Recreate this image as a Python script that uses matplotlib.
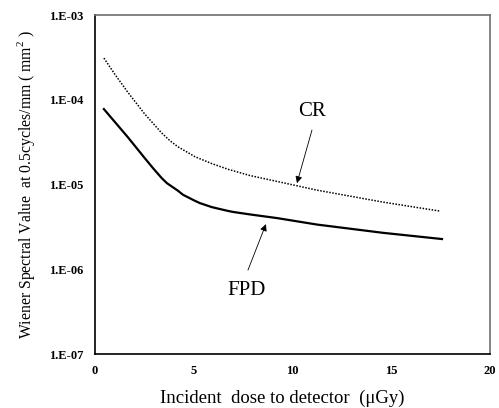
import matplotlib
matplotlib.use("Agg")
from matplotlib import pyplot as plt

plt.rcParams['font.family'] = ['Liberation Serif', 'DejaVu Serif']
plt.rcParams['mathtext.fontset'] = 'custom'
plt.rcParams['mathtext.rm'] = 'Liberation Serif'

# values
fpd_dose = [0.46, 1.67, 2.53, 2.94, 3.39, 3.65, 4.20, 4.46, 5.06, 5.32, 5.92, 6.18,
            6.73, 7.0, 7.85, 9.22, 11.24, 14.58, 17.57]
fpd_wsv = [7.78e-5, 3.63e-5, 2.05e-5, 1.57e-5, 1.19e-5, 1.04e-5, 8.5e-6, 7.6e-6,
           6.45e-6, 6.05e-6, 5.43e-6, 5.25e-6, 4.9e-6, 4.76e-6, 4.45e-6, 4.03e-6,
           3.38e-6, 2.70e-6, 2.28e-6]

cr_dose = [0.46, 1.01, 1.67, 2.53, 3.39, 3.8, 4.20, 5.06, 5.92, 6.73, 7.85, 11.24, 14.58, 17.47]
cr_wsv = [3.11e-4, 2.01e-4, 1.23e-4, 6.79e-5, 4.05e-5, 3.3e-5, 2.8e-5, 2.14e-5, 1.77e-5,
          1.52e-5, 1.28e-5, 8.61e-6, 6.22e-6, 4.87e-6]

x_ticks = [0, 5, 10, 15, 20]
y_ticks = [1e-7, 1e-6, 1e-5, 1e-4, 1e-3]
y_labels = ["1.E-07", "1.E-06", "1.E-05", "1.E-04", "1.E-03"]

fig = plt.figure(figsize=(4.99, 4.08), dpi=100)
ax = fig.add_axes([0.19, 0.132, 0.792, 0.831])

ax.plot(fpd_dose, fpd_wsv, '-', color='black', lw=1.6, solid_joinstyle='round')
ax.plot(cr_dose, cr_wsv, color='black', lw=1.1, linestyle=(0, (1, 1)))

ax.set_yscale('log')
ax.set_xlim(0, 20)
ax.set_ylim(1e-7, 1e-3)
ax.set_xticks(x_ticks)
ax.set_xticklabels([str(v) for v in x_ticks], fontsize=9, fontweight='bold')
ax.set_yticks(y_ticks)
ax.set_yticklabels(y_labels, fontsize=9, fontweight='bold')
ax.minorticks_off()
ax.tick_params(length=0, pad=8)

for s in ['left', 'bottom']:
    ax.spines[s].set_color('black')
    ax.spines[s].set_linewidth(1.2)
for s in ['top', 'right']:
    ax.spines[s].set_color('#6e6e6e')
    ax.spines[s].set_linewidth(1.2)

ax.set_xlabel("Incident  dose to detector  (\u03bcGy)", fontsize=13.5)
ax.xaxis.set_label_coords(0.475, -0.105)
ax.set_ylabel("Wiener Spectral Value  at 0.5cycles/mm ( mm$^2$ )", fontsize=11.3, labelpad=9)

arrow = dict(arrowstyle='-|>', color='black', lw=0.6, mutation_scale=10, shrinkA=0, shrinkB=0)
ax.annotate("", xy=(10.23, 1.04e-5), xytext=(10.99, 4.4e-5), arrowprops=arrow)
ax.text(10.99, 7.2e-5, "CR", fontsize=15, ha='center', va='center')
ax.annotate("", xy=(8.66, 3.42e-6), xytext=(7.75, 9.8e-7), arrowprops=arrow)
ax.text(7.7, 5.7e-7, "FPD", fontsize=15, ha='center', va='center')

fig.savefig("out.png", dpi=100)
